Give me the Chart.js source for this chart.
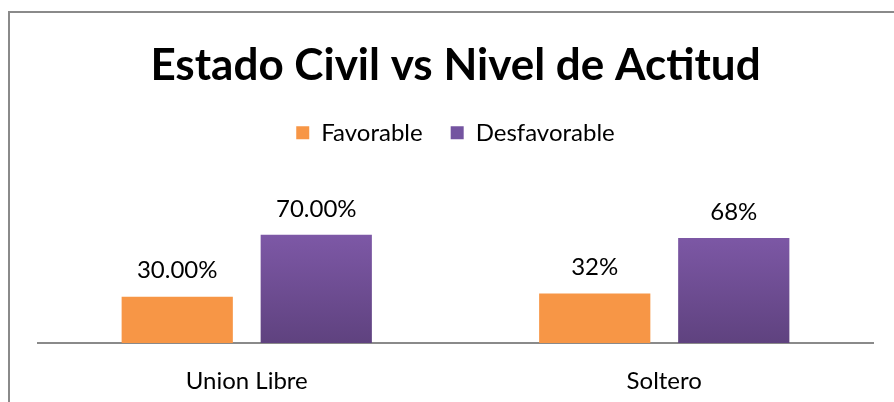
<!DOCTYPE html>
<html lang="es">
<head>
    <meta charset="UTF-8">
    <script src="https://cdn.jsdelivr.net/npm/chart.js@4/dist/chart.umd.min.js"></script>
    <title>Estado Civil vs Nivel de Actitud</title>
    <style type="text/css">
        body { margin: 0; background: #fff; }
        #wrap { width: 894px; height: 402px; }
    </style>
</head>
<body>
    <div id="wrap"><canvas id="chartCanvas" width="894" height="402"></canvas></div>
<script>

// data
var categories = ["Union Libre", "Soltero"];
var seriesNames = ["Favorable", "Desfavorable"];
var favorable = [0.30, 0.32];
var desfavorable = [0.70, 0.68];
var favorableLabels = ["30.00%", "32%"];
var desfavorableLabels = ["70.00%", "68%"];

var FONT = "Lato, 'Open Sans', sans-serif";

function purpleFill(context) {
    var chart = context.chart;
    var area = chart.chartArea;
    if (!area) return "#7158a0";
    var y = chart.scales.y;
    var g = chart.ctx.createLinearGradient(0, y.getPixelForValue(0.70), 0, area.bottom);
    g.addColorStop(0, "#7d58a6");
    g.addColorStop(1, "#5f427f");
    return g;
}

// frame drawn like the spreadsheet chart box
var framePlugin = {
    id: 'frame',
    beforeDraw(chart) {
        var ctx = chart.ctx;
        ctx.save();
        ctx.strokeStyle = "#8a8a8a";
        ctx.lineWidth = 2;
        ctx.beginPath();
        ctx.moveTo(9, chart.height);
        ctx.lineTo(9, 12);
        ctx.lineTo(chart.width, 12);
        ctx.stroke();
        ctx.restore();
    }
};

var valueLabels = {
    id: 'valueLabels',
    afterDatasetsDraw(chart) {
        var ctx = chart.ctx;
        var texts = [favorableLabels, desfavorableLabels];
        ctx.save();
        ctx.font = "24px " + FONT;
        ctx.fillStyle = "#000";
        ctx.textAlign = "center";
        ctx.textBaseline = "middle";
        chart.data.datasets.forEach(function (ds, i) {
            chart.getDatasetMeta(i).data.forEach(function (bar, j) {
                ctx.fillText(texts[i][j], bar.x, bar.y - 26);
            });
        });
        ctx.restore();
    }
};

var ctx = document.getElementById("chartCanvas");
var chart = new Chart(ctx, {
    type: 'bar',
    data: {
        labels: categories,
        datasets: [
        {
            label: seriesNames[0],
            data: favorable,
            backgroundColor: "#f79646",
            categoryPercentage: 0.666,
            barPercentage: 0.8
        },
        {
            label: seriesNames[1],
            data: desfavorable,
            backgroundColor: purpleFill,
            categoryPercentage: 0.666,
            barPercentage: 0.8
        }]
    },
    options: {
        responsive: false,
        animation: false,
        layout: { padding: { left: 38, right: 21, top: 0, bottom: 0 } },
        scales: {
            x: {
                grid: { display: false, drawTicks: false },
                border: { display: true, color: "#8a8a8a", width: 2 },
                ticks: { color: "#000", padding: 24, font: { family: FONT, size: 24 } },
                afterFit: function (scale) { scale.height = 59; }
            },
            y: {
                display: false,
                min: 0,
                max: 1.218
            }
        },
        plugins: {
            title: {
                display: true,
                text: "Estado Civil vs Nivel de Actitud",
                color: "#000",
                font: { family: FONT, size: 44, weight: 'bold' },
                padding: { top: 39, bottom: 1 }
            },
            legend: {
                position: 'top',
                labels: {
                    color: "#000",
                    boxWidth: 13,
                    boxHeight: 13,
                    padding: 28,
                    font: { family: FONT, size: 24 },
                    generateLabels: function (chart) {
                        return seriesNames.map(function (name, i) {
                            return {
                                text: name,
                                fillStyle: i === 0 ? "#f79646" : "#7454a0",
                                strokeStyle: "transparent",
                                lineWidth: 0,
                                datasetIndex: i
                            };
                        });
                    }
                }
            },
            tooltip: { enabled: false }
        }
    },
    plugins: [framePlugin, valueLabels]
});

</script>
</body>
</html>
